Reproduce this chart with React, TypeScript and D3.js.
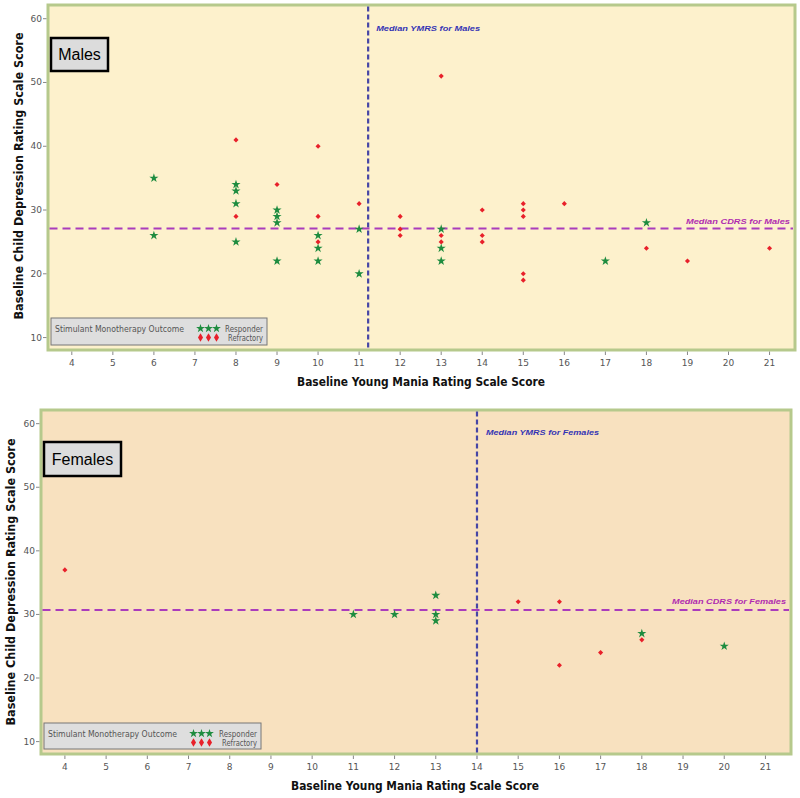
import React from "react";
import * as d3 from "d3";

// ---------- DATA ----------
const xTicks = [4, 5, 6, 7, 8, 9, 10, 11, 12, 13, 14, 15, 16, 17, 18, 19, 20, 21];
const yTicks = [10, 20, 30, 40, 50, 60];

const maleResponderX = [6, 6, 8, 8, 8, 8, 9, 9, 9, 9, 10, 10, 10, 11, 11, 13, 13, 13, 17, 18];
const maleResponderY = [35, 26, 34, 33, 31, 25, 30, 29, 28, 22, 26, 24, 22, 27, 20, 27, 24, 22, 22, 28];
const maleRefractoryX = [8, 8, 9, 10, 10, 10, 11, 12, 12, 12, 13, 13, 13, 14, 14, 14, 15, 15, 15, 15, 15, 16, 18, 19, 21];
const maleRefractoryY = [41, 29, 34, 40, 29, 25, 31, 29, 27, 26, 51, 26, 25, 30, 26, 25, 31, 30, 29, 20, 19, 31, 24, 22, 24];

const femaleResponderX = [11, 12, 13, 13, 13, 18, 20];
const femaleResponderY = [30, 30, 33, 30, 29, 27, 25];
const femaleRefractoryX = [4, 15, 16, 16, 17, 18];
const femaleRefractoryY = [37, 32, 32, 22, 24, 26];

const maleMedianYMRS = 11.22;
const maleMedianCDRS = 27.1;
const femaleMedianYMRS = 14;
const femaleMedianCDRS = 30.7;

const xTitle = "Baseline Young Mania Rating Scale Score";
const yTitle = "Baseline Child Depression Rating Scale Score";
const legendTitle = "Stimulant Monotherapy Outcome";

// ---------- STYLE ----------
const GREEN = "#1e8c3f";
const RED = "#e8202a";
const BLUE_LINE = "#4646a6";
const BLUE_TEXT = "#3434b4";
const MAG_LINE = "#aa3cbc";
const MAG_TEXT = "#b02cb0";
const BORDER = "#b6c98c";

const starPath = d3.symbol().type(d3.symbolStar).size(26)() as string;
const dotPath = d3.symbol().type(d3.symbolSquare).size(13)() as string;
const legStar = d3.symbol().type(d3.symbolStar).size(24)() as string;
const legDiamond = d3.symbol().type(d3.symbolDiamond).size(22)() as string;

type PanelProps = {
  x0: number; x1: number; y0: number; y1: number;
  fill: string;
  label: string;
  labelBox: [number, number, number, number];
  respX: number[]; respY: number[]; refX: number[]; refY: number[];
  medX: number; medY: number;
  medXLabel: string; medYLabel: string;
  medXLabelY: number; medXLabelDx: number; medXLabelW: number;
  medYLabelX: number; medYLabelDy: number; medYLabelW: number;
  legend: [number, number, number, number];
  xTitleY: number; xTitleX: number;
  yTitleX: number; yTitleY: number;
};

function Panel(p: PanelProps) {
  const x = d3.scaleLinear().domain([3.42, 21.62]).range([p.x0, p.x1]);
  const y = d3.scaleLinear().domain([8.05, 62.15]).range([p.y1, p.y0]);
  const [lx, ly, lw, lh] = p.legend;
  const [bx, by, bw, bh] = p.labelBox;
  return (
    <g>
      <rect x={p.x0} y={p.y0} width={p.x1 - p.x0} height={p.y1 - p.y0} fill={p.fill} stroke={BORDER} strokeWidth={3} />
      {/* axis ticks */}
      {xTicks.map((t) => (
        <g key={"xt" + t}>
          <line x1={x(t)} x2={x(t)} y1={p.y1 + 1.5} y2={p.y1 + 5} stroke="#888" strokeWidth={1} />
          <text x={x(t)} y={p.y1 + 16} textAnchor="middle" fontSize={9} fill="#555" fontFamily="DejaVu Sans">{t}</text>
        </g>
      ))}
      {yTicks.map((t) => (
        <g key={"yt" + t}>
          <line x1={p.x0 - 5} x2={p.x0 - 1.5} y1={y(t)} y2={y(t)} stroke="#888" strokeWidth={1} />
          <text x={p.x0 - 6} y={y(t) + 3} textAnchor="end" fontSize={9} fill="#555" fontFamily="DejaVu Sans">{t}</text>
        </g>
      ))}
      {/* median lines */}
      <line x1={x(p.medX)} x2={x(p.medX)} y1={p.y0 + 1.5} y2={p.y1 - 1.5} stroke={BLUE_LINE} strokeWidth={2.2} strokeDasharray="5,3" />
      <line x1={p.x0 + 1.5} x2={p.x1 - 2} y1={y(p.medY)} y2={y(p.medY)} stroke={MAG_LINE} strokeWidth={2.2} strokeDasharray="8,5" />
      <text x={x(p.medX) + p.medXLabelDx} y={p.medXLabelY} fontSize={8} fontWeight="bold" fontStyle="italic" fill={BLUE_TEXT} fontFamily="Liberation Sans" textLength={p.medXLabelW} lengthAdjust="spacingAndGlyphs">{p.medXLabel}</text>
      <text x={p.medYLabelX} y={y(p.medY) + p.medYLabelDy} textAnchor="end" fontSize={8} fontWeight="bold" fontStyle="italic" fill={MAG_TEXT} fontFamily="Liberation Sans" textLength={p.medYLabelW} lengthAdjust="spacingAndGlyphs">{p.medYLabel}</text>
      {/* points */}
      {p.refX.map((v, i) => (
        <path key={"rf" + i} d={dotPath} transform={`translate(${x(v)},${y(p.refY[i])}) rotate(45)`} fill={RED} />
      ))}
      {p.respX.map((v, i) => (
        <path key={"rs" + i} d={starPath} transform={`translate(${x(v)},${y(p.respY[i])})`} fill={GREEN} />
      ))}
      {/* label box */}
      <rect x={bx} y={by} width={bw} height={bh} fill="#dcdcdc" stroke="#000" strokeWidth={2.5} />
      <text x={bx + bw / 2} y={by + bh / 2 + 5.5} textAnchor="middle" fontSize={16} fontFamily="Liberation Sans" fill="#000">{p.label}</text>
      {/* legend */}
      <rect x={lx} y={ly} width={lw} height={lh} fill="#dedede" stroke="#777" strokeWidth={1} />
      <text x={lx + 4} y={ly + 14} fontSize={9.5} fill="#555" fontFamily="DejaVu Sans" textLength={129} lengthAdjust="spacingAndGlyphs">{legendTitle}</text>
      {[0, 1, 2].map((k) => (
        <g key={"lg" + k}>
          <path d={legStar} transform={`translate(${lx + 149.5 + k * 8},${ly + 10.5})`} fill={GREEN} />
          <path d={legDiamond} transform={`translate(${lx + 149.5 + k * 8},${ly + 19.5})`} fill={RED} />
        </g>
      ))}
      <text x={lx + lw - 4} y={ly + 14} textAnchor="end" fontSize={8.5} fill="#555" fontFamily="DejaVu Sans" textLength={38} lengthAdjust="spacingAndGlyphs">Responder</text>
      <text x={lx + lw - 4} y={ly + 23} textAnchor="end" fontSize={8.5} fill="#555" fontFamily="DejaVu Sans" textLength={35} lengthAdjust="spacingAndGlyphs">Refractory</text>
      {/* axis titles */}
      <text x={p.xTitleX} y={p.xTitleY} textAnchor="middle" fontSize={13} fontWeight="bold" fill="#111" fontFamily="DejaVu Sans" textLength={248} lengthAdjust="spacingAndGlyphs">{xTitle}</text>
      <text transform={`translate(${p.yTitleX},${p.yTitleY}) rotate(-90)`} textAnchor="middle" fontSize={13} fontWeight="bold" fill="#111" fontFamily="DejaVu Sans" textLength={287} lengthAdjust="spacingAndGlyphs">{yTitle}</text>
    </g>
  );
}

export default function App() {
  return (
    <svg width={800} height={798} style={{ position: "absolute", left: 0, top: 0 }}>
      <rect x={0} y={0} width={800} height={798} fill="#fff" />
      <Panel
        x0={48} x1={795} y0={5} y1={350}
        fill="#fdf1cc"
        label="Males"
        labelBox={[51, 38, 57, 33]}
        respX={maleResponderX} respY={maleResponderY} refX={maleRefractoryX} refY={maleRefractoryY}
        medX={maleMedianYMRS} medY={maleMedianCDRS}
        medXLabel="Median YMRS for Males" medYLabel="Median CDRS for Males"
        medXLabelY={30.5} medXLabelDx={8} medXLabelW={104}
        medYLabelX={790} medYLabelDy={-5} medYLabelW={104}
        legend={[51, 318, 216, 27]}
        xTitleX={421} xTitleY={386}
        yTitleX={23} yTitleY={176}
      />
      <Panel
        x0={41} x1={791} y0={410} y1={754}
        fill="#f8e1bf"
        label="Females"
        labelBox={[44, 442, 77, 34]}
        respX={femaleResponderX} respY={femaleResponderY} refX={femaleRefractoryX} refY={femaleRefractoryY}
        medX={femaleMedianYMRS} medY={femaleMedianCDRS}
        medXLabel="Median YMRS for Females" medYLabel="Median CDRS for Females"
        medXLabelY={435} medXLabelDx={9} medXLabelW={113}
        medYLabelX={786} medYLabelDy={-5.5} medYLabelW={114}
        legend={[44, 723, 217, 26]}
        xTitleX={415} xTitleY={790}
        yTitleX={15} yTitleY={582}
      />
    </svg>
  );
}
